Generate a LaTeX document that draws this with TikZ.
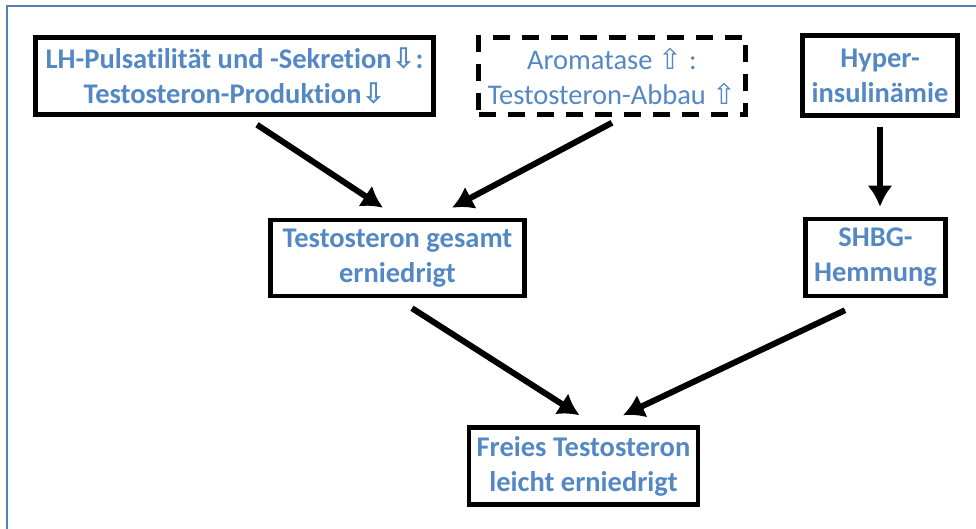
\documentclass[tikz,border=0pt]{standalone}
\usepackage{fontspec}
\setmainfont[Ligatures=NoCommon]{Carlito}
\newfontfamily\symfont{DejaVu Sans}
\usepackage{tikz}
\usetikzlibrary{arrows.meta}

\definecolor{frameblue}{RGB}{79,129,189}
\definecolor{textblue}{RGB}{84,136,196}

\newcommand{\dn}{{\symfont ⇩}}
\newcommand{\up}{{\symfont ⇧}}

\begin{document}
\begin{tikzpicture}
    [
    x=1pt, y=-1pt,
    box/.style={draw, line width=4.5pt, align=center, inner sep=0pt,
      text=textblue, font=\fontsize{28.5}{35}\selectfont\bfseries},
    dashbox/.style={box, font=\fontsize{28.5}{35}\selectfont,
      dash pattern=on 17pt off 12pt},
    arr/.style={-{Latex[length=21pt,width=25pt]}, line width=6pt},
    frame/.style={draw=frameblue, line width=2.5pt},
    ]
    \useasboundingbox (0,0) rectangle (976,529);
    \draw [frame] (976,6) -- (7,6) -- (7,529);

    \node (lh) at (234.5,76) [box, minimum width=398pt, minimum height=77pt]
      {LH-Pulsatilität und -Sekretion\dn:\\Testosteron-Produktion\dn};
    \node (arom) at (612,76) [dashbox, minimum width=267pt, minimum height=77pt]
      {Aromatase \up\ :\\Testosteron-Abbau \up};
    \node (hyper) at (880,75.5) [box, minimum width=155pt, minimum height=80pt]
      {Hyper-\\insulinämie};
    \node (gesamt) at (397.5,258) [box, minimum width=254pt, minimum height=76pt]
      {Testosteron gesamt\\erniedrigt};
    \node (shbg) at (875.5,257.5) [box, minimum width=140pt, minimum height=77pt]
      {SHBG-\\Hemmung};
    \node (freies) at (583.5,466) [box, minimum width=229pt, minimum height=77pt]
      {Freies Testosteron\\leicht erniedrigt};

    \draw [arr] ([xshift=22.5pt,yshift=-8pt]lh.south) to ([xshift=-14.5pt,yshift=10pt]gesamt.north);
    \draw [arr] ([yshift=-6pt]arom.south) to ([xshift=54.5pt,yshift=10pt]gesamt.north);
    \draw [arr] ([yshift=-9pt]hyper.south) to ([yshift=10pt]hyper.south |- shbg.north);
    \draw [arr] ([xshift=14.5pt,yshift=-10pt]gesamt.south) to ([xshift=-4pt,yshift=10pt]freies.north);
    \draw [arr] ([xshift=-30.5pt,yshift=-12pt]shbg.south) to ([xshift=39.5pt,yshift=10pt]freies.north);
  \end{tikzpicture}
\end{document}
